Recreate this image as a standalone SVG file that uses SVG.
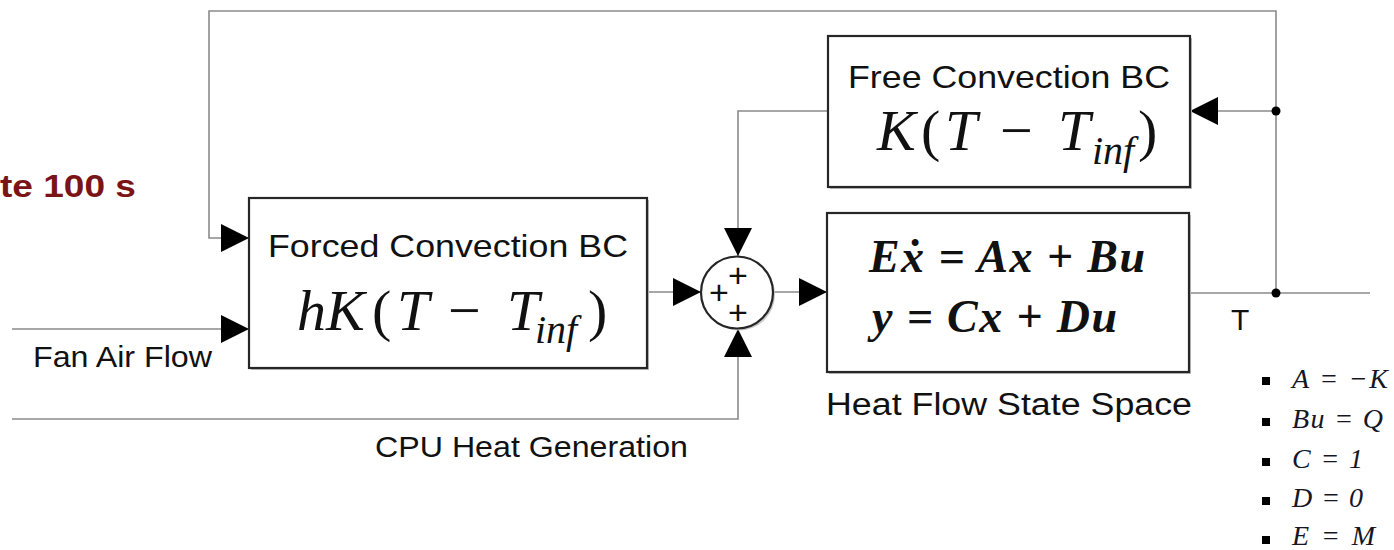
<svg xmlns="http://www.w3.org/2000/svg" width="1394" height="550" viewBox="0 0 1394 550">
<style>
.line{fill:none;stroke:#8a8a8a;stroke-width:1.6}
.box{fill:#fff;stroke:#262626;stroke-width:2.2}
.shadow{fill:#bdbdbd;stroke:none}
.lbl{font-family:"Liberation Sans",Arial,sans-serif;fill:#111}
.math{font-family:"Liberation Serif","Times New Roman",serif;font-style:italic;fill:#111}
.up{font-style:normal}
.bm{font-family:"Liberation Serif","Times New Roman",serif;font-style:italic;font-weight:bold;fill:#111}
.list{font-family:"Liberation Serif","Times New Roman",serif;font-style:italic;font-size:28px;fill:#161625}
.dot{fill:#000}
</style>
<defs>
<marker id="arr" viewBox="0 0 10 10" refX="10" refY="5" markerWidth="28" markerHeight="28" markerUnits="userSpaceOnUse" orient="auto">
<path d="M0,0 L10,5 L0,10 z" fill="#000"/>
</marker>
</defs>
<rect width="1394" height="550" fill="#fff"/>

<text class="lbl" x="0" y="197" font-size="31" font-weight="bold" style="fill:#7b1416" textLength="136" lengthAdjust="spacingAndGlyphs">te 100 s</text>

<g id="connectors">
<path class="line" d="M1276 293 V11 H209 V238 H249" marker-end="url(#arr)"/>
<path class="line" d="M12 329 H249" marker-end="url(#arr)"/>
<path class="line" d="M12 419 H738 V329" marker-end="url(#arr)"/>
<path class="line" d="M647 292 H701" marker-end="url(#arr)"/>
<path class="line" d="M828 111 H738 V256" marker-end="url(#arr)"/>
<path class="line" d="M773 292 H827" marker-end="url(#arr)"/>
<path class="line" d="M1189 293 H1370"/>
<path class="line" d="M1276 111 H1190" marker-end="url(#arr)"/>
<circle class="dot" cx="1276" cy="111" r="4.5"/>
<circle class="dot" cx="1276" cy="293" r="4.5"/>
<text class="lbl" x="33" y="367" font-size="30" textLength="179" lengthAdjust="spacingAndGlyphs">Fan Air Flow</text>
<text class="lbl" x="375" y="457" font-size="30" textLength="313" lengthAdjust="spacingAndGlyphs">CPU Heat Generation</text>
<text class="lbl" x="1231" y="330" font-size="30">T</text>
</g>

<g id="forced">
<rect class="shadow" x="251" y="200" width="398" height="170"/>
<rect class="box" x="249" y="198" width="398" height="170"/>
<text class="lbl" x="268" y="257" font-size="32" textLength="360" lengthAdjust="spacingAndGlyphs">Forced Convection BC</text>
<text class="math" x="297" y="330" font-size="58">hK<tspan class="up" x="372">(</tspan><tspan x="397">T</tspan><tspan class="up" x="448">−</tspan><tspan x="507">T</tspan><tspan x="535" y="343" font-size="40">inf</tspan><tspan class="up" x="588" y="330">)</tspan></text>
</g>

<g id="free">
<rect class="shadow" x="830" y="38" width="362" height="151"/>
<rect class="box" x="828" y="36" width="362" height="151"/>
<text class="lbl" x="848" y="88" font-size="32" textLength="322" lengthAdjust="spacingAndGlyphs">Free Convection BC</text>
<text class="math" x="877" y="150" font-size="58">K<tspan class="up" x="921">(</tspan><tspan x="945">T</tspan><tspan class="up" x="1000">−</tspan><tspan x="1058">T</tspan><tspan x="1092" y="164" font-size="40">inf</tspan><tspan class="up" x="1138" y="150">)</tspan></text>
</g>

<g id="sum">
<circle cx="739" cy="294.5" r="36" fill="#c8c8c8"/>
<circle cx="737" cy="292.5" r="36" fill="#fff" stroke="#262626" stroke-width="2.2"/>
<text class="lbl" x="738" y="287" font-size="34" text-anchor="middle">+</text>
<text class="lbl" x="719" y="304" font-size="34" text-anchor="middle">+</text>
<text class="lbl" x="738" y="324" font-size="34" text-anchor="middle">+</text>
</g>

<g id="statespace">
<rect class="shadow" x="829" y="215" width="362" height="159"/>
<rect class="box" x="827" y="213" width="362" height="159"/>
<text class="bm" x="869" y="272" font-size="46" textLength="276" lengthAdjust="spacing">Eẋ = Ax + Bu</text>
<text class="bm" x="872" y="332" font-size="46" textLength="245" lengthAdjust="spacing">y = Cx + Du</text>
<text class="lbl" x="826" y="415" font-size="31" textLength="366" lengthAdjust="spacingAndGlyphs">Heat Flow State Space</text>
</g>

<g id="params">
<rect x="1262" y="377" width="8" height="8" fill="#000"/>
<rect x="1262" y="418" width="8" height="8" fill="#000"/>
<rect x="1262" y="458" width="8" height="8" fill="#000"/>
<rect x="1262" y="497" width="8" height="8" fill="#000"/>
<rect x="1262" y="536" width="8" height="8" fill="#000"/>
<text class="list" x="1292" y="388" textLength="96" lengthAdjust="spacing">A = −K</text>
<text class="list" x="1292" y="428" textLength="91" lengthAdjust="spacing">Bu = Q</text>
<text class="list" x="1292" y="468" textLength="71" lengthAdjust="spacing">C = 1</text>
<text class="list" x="1292" y="507" textLength="71" lengthAdjust="spacing">D = 0</text>
<text class="list" x="1292" y="545" textLength="83" lengthAdjust="spacing">E = M</text>
</g>
</svg>
